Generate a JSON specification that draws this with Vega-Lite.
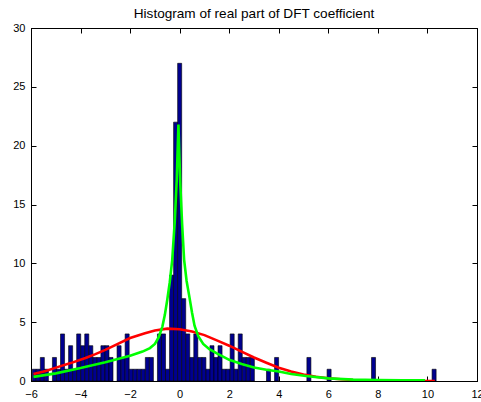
{
  "$schema": "https://vega.github.io/schema/vega-lite/v6.json",
  "autosize": "none",
  "width": 446,
  "height": 353,
  "padding": {"left": 31, "top": 28, "right": 4, "bottom": 21},
  "background": "white",
  "title": {"text": "Histogram of real part of DFT coefficient", "font": "Liberation Sans", "fontSize": 13.6, "fontWeight": "normal", "color": "black", "offset": 1, "anchor": "middle"},
  "config": {
    "view": {"stroke": "black", "strokeWidth": 1},
    "axis": {"grid": false, "domainColor": "black", "tickColor": "black", "labelColor": "black", "labelFont": "Liberation Sans", "labelFontSize": 11, "tickSize": -5, "title": null}
  },
  "datasets": {
    "bars": [
      {"lo": -5.950, "hi": -5.787, "count": 1},
      {"lo": -5.787, "hi": -5.624, "count": 1},
      {"lo": -5.624, "hi": -5.461, "count": 2},
      {"lo": -5.461, "hi": -5.298, "count": 1},
      {"lo": -5.135, "hi": -4.972, "count": 2},
      {"lo": -4.972, "hi": -4.809, "count": 1},
      {"lo": -4.809, "hi": -4.646, "count": 4},
      {"lo": -4.646, "hi": -4.483, "count": 1},
      {"lo": -4.483, "hi": -4.320, "count": 3},
      {"lo": -4.320, "hi": -4.157, "count": 1},
      {"lo": -4.157, "hi": -3.994, "count": 4},
      {"lo": -3.994, "hi": -3.831, "count": 3},
      {"lo": -3.831, "hi": -3.668, "count": 4},
      {"lo": -3.668, "hi": -3.505, "count": 3},
      {"lo": -3.505, "hi": -3.342, "count": 2},
      {"lo": -3.342, "hi": -3.179, "count": 2},
      {"lo": -3.179, "hi": -3.016, "count": 3},
      {"lo": -3.016, "hi": -2.853, "count": 3},
      {"lo": -2.853, "hi": -2.690, "count": 2},
      {"lo": -2.527, "hi": -2.364, "count": 3},
      {"lo": -2.364, "hi": -2.201, "count": 2},
      {"lo": -2.201, "hi": -2.038, "count": 4},
      {"lo": -2.038, "hi": -1.875, "count": 1},
      {"lo": -1.875, "hi": -1.712, "count": 1},
      {"lo": -1.712, "hi": -1.549, "count": 1},
      {"lo": -1.549, "hi": -1.386, "count": 1},
      {"lo": -1.386, "hi": -1.223, "count": 2},
      {"lo": -1.223, "hi": -1.060, "count": 2},
      {"lo": -0.897, "hi": -0.734, "count": 4},
      {"lo": -0.734, "hi": -0.571, "count": 4},
      {"lo": -0.571, "hi": -0.408, "count": 1},
      {"lo": -0.408, "hi": -0.245, "count": 9},
      {"lo": -0.245, "hi": -0.082, "count": 22},
      {"lo": -0.082, "hi": 0.081, "count": 27},
      {"lo": 0.081, "hi": 0.244, "count": 7},
      {"lo": 0.244, "hi": 0.407, "count": 4},
      {"lo": 0.407, "hi": 0.570, "count": 2},
      {"lo": 0.570, "hi": 0.733, "count": 4},
      {"lo": 0.733, "hi": 0.896, "count": 2},
      {"lo": 0.896, "hi": 1.059, "count": 2},
      {"lo": 1.059, "hi": 1.222, "count": 1},
      {"lo": 1.222, "hi": 1.385, "count": 3},
      {"lo": 1.385, "hi": 1.548, "count": 2},
      {"lo": 1.548, "hi": 1.711, "count": 3},
      {"lo": 1.711, "hi": 1.874, "count": 1},
      {"lo": 1.874, "hi": 2.037, "count": 1},
      {"lo": 2.037, "hi": 2.200, "count": 4},
      {"lo": 2.200, "hi": 2.363, "count": 1},
      {"lo": 2.363, "hi": 2.526, "count": 4},
      {"lo": 2.526, "hi": 2.689, "count": 2},
      {"lo": 2.689, "hi": 2.852, "count": 2},
      {"lo": 2.852, "hi": 3.015, "count": 2},
      {"lo": 3.504, "hi": 3.667, "count": 1},
      {"lo": 3.830, "hi": 3.993, "count": 2},
      {"lo": 5.134, "hi": 5.297, "count": 2},
      {"lo": 5.949, "hi": 6.112, "count": 1},
      {"lo": 7.742, "hi": 7.905, "count": 2},
      {"lo": 10.187, "hi": 10.350, "count": 1}
    ],
    "red": [
      {"x": -5.9, "y": 0.6}, {"x": -5.4, "y": 0.85}, {"x": -4.9, "y": 1.2}, {"x": -4.4, "y": 1.52},
      {"x": -3.8, "y": 1.95}, {"x": -3.4, "y": 2.28}, {"x": -3.0, "y": 2.65}, {"x": -2.6, "y": 3.05},
      {"x": -2.0, "y": 3.65}, {"x": -1.4, "y": 4.05}, {"x": -1.0, "y": 4.3}, {"x": -0.5, "y": 4.45},
      {"x": 0.0, "y": 4.4}, {"x": 0.5, "y": 4.2}, {"x": 1.0, "y": 3.9}, {"x": 1.5, "y": 3.45},
      {"x": 2.0, "y": 3.0}, {"x": 2.5, "y": 2.5}, {"x": 3.0, "y": 2.0}, {"x": 3.5, "y": 1.55},
      {"x": 4.0, "y": 1.12}, {"x": 4.5, "y": 0.8}, {"x": 5.0, "y": 0.55}, {"x": 5.5, "y": 0.36},
      {"x": 6.0, "y": 0.24}, {"x": 6.5, "y": 0.15}, {"x": 7.0, "y": 0.09}, {"x": 8.0, "y": 0.03},
      {"x": 9.0, "y": 0.01}, {"x": 10.3, "y": 0.002}
    ],
    "green": [
      {"x": -5.9, "y": 0.35}, {"x": -5.0, "y": 0.65}, {"x": -4.0, "y": 1.1}, {"x": -3.0, "y": 1.6},
      {"x": -2.0, "y": 2.15}, {"x": -1.5, "y": 2.5}, {"x": -1.2, "y": 2.8}, {"x": -1.0, "y": 3.15},
      {"x": -0.85, "y": 3.7}, {"x": -0.7, "y": 4.6}, {"x": -0.6, "y": 5.6}, {"x": -0.5, "y": 6.9},
      {"x": -0.4, "y": 8.4}, {"x": -0.3, "y": 10.3}, {"x": -0.2, "y": 13.5}, {"x": -0.12, "y": 17.0},
      {"x": -0.05, "y": 21.8}, {"x": 0.02, "y": 17.0}, {"x": 0.1, "y": 13.3}, {"x": 0.18, "y": 10.3},
      {"x": 0.28, "y": 8.5}, {"x": 0.38, "y": 7.3}, {"x": 0.5, "y": 5.8}, {"x": 0.6, "y": 4.7},
      {"x": 0.75, "y": 3.8}, {"x": 0.95, "y": 3.15}, {"x": 1.2, "y": 2.7}, {"x": 1.5, "y": 2.35},
      {"x": 2.0, "y": 1.8}, {"x": 2.5, "y": 1.45}, {"x": 3.0, "y": 1.15}, {"x": 3.5, "y": 0.95},
      {"x": 4.0, "y": 0.8}, {"x": 4.5, "y": 0.6}, {"x": 5.1, "y": 0.42}, {"x": 6.0, "y": 0.22},
      {"x": 7.0, "y": 0.12}, {"x": 8.0, "y": 0.08}, {"x": 9.0, "y": 0.06}, {"x": 9.9, "y": 0.05}
    ]
  },
  "resolve": {"axis": {"x": "independent", "y": "independent"}},
  "layer": [
    {
      "data": {"name": "bars"},
      "mark": {"type": "rect", "color": "#00008F", "stroke": "black", "strokeWidth": 0.6},
      "encoding": {
        "x": {"field": "lo", "type": "quantitative", "scale": {"domain": [-6, 12], "nice": false, "zero": false},
              "axis": {"orient": "bottom", "values": [-6, -4, -2, 0, 2, 4, 6, 8, 10, 12], "labelPadding": 12, "labelFlush": false, "labelOverlap": false}},
        "x2": {"field": "hi"},
        "y": {"field": "count", "type": "quantitative", "scale": {"domain": [0, 30], "nice": false},
              "axis": {"orient": "left", "values": [0, 5, 10, 15, 20, 25, 30], "labelPadding": 11, "labelOverlap": false}},
        "y2": {"datum": 0}
      }
    },
    {
      "data": {"name": "red"},
      "mark": {"type": "line", "color": "#FF0000", "strokeWidth": 2.6, "clip": true},
      "encoding": {
        "x": {"field": "x", "type": "quantitative", "scale": {"domain": [-6, 12], "nice": false, "zero": false},
              "axis": {"orient": "top", "values": [-6, -4, -2, 0, 2, 4, 6, 8, 10, 12], "labels": false}},
        "y": {"field": "y", "type": "quantitative", "scale": {"domain": [0, 30], "nice": false},
              "axis": {"orient": "right", "values": [0, 5, 10, 15, 20, 25, 30], "labels": false}}
      }
    },
    {
      "data": {"name": "green"},
      "mark": {"type": "line", "color": "#00FF00", "strokeWidth": 2.6, "clip": true},
      "encoding": {
        "x": {"field": "x", "type": "quantitative", "scale": {"domain": [-6, 12], "nice": false, "zero": false}, "axis": null},
        "y": {"field": "y", "type": "quantitative", "scale": {"domain": [0, 30], "nice": false}, "axis": null}
      }
    }
  ]
}
